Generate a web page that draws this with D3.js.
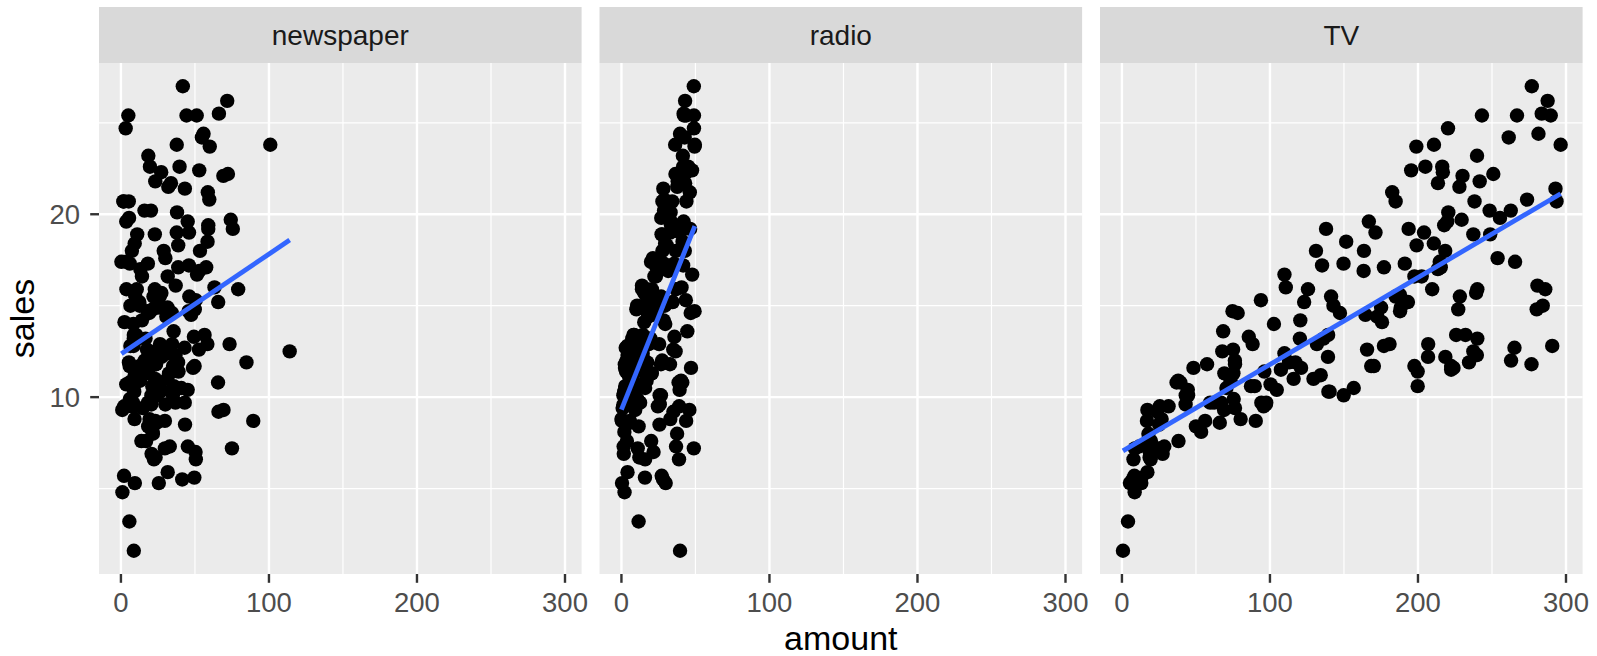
<!DOCTYPE html>
<meta charset="utf-8">
<style>
body{ margin:0; background:#fff; }
text{ font-family:"Liberation Sans", Arial, Helvetica, sans-serif; }
.strip text{ font-size:28px; fill:#1A1A1A; text-anchor:middle; }
.tick-label{ font-size:27.5px; fill:#4D4D4D; }
.axis-title{ font-size:34px; fill:#000; text-anchor:middle; }
</style>
<body>
<script src="https://cdn.jsdelivr.net/npm/d3@7"></script>
<script>
// Advertising data: ad budget per medium and the sales that went with it
var tv = [230.1,44.5,17.2,151.5,180.8,8.7,57.5,120.2,8.6,199.8,66.1,214.7,23.8,97.5,204.1,195.4,67.8,281.4,69.2,147.3,
218.4,237.4,13.2,228.3,62.3,262.9,142.9,240.1,248.8,70.6,292.9,112.9,97.2,265.6,95.7,290.7,266.9,74.7,43.1,228,
202.5,177,293.6,206.9,25.1,175.1,89.7,239.9,227.2,66.9,199.8,100.4,216.4,182.6,262.7,198.9,7.3,136.2,210.8,210.7,
53.5,261.3,239.3,102.7,131.1,69,31.5,139.3,237.4,216.8,199.1,109.8,26.8,129.4,213.4,16.9,27.5,120.5,5.4,116,
76.4,239.8,75.3,68.4,213.5,193.2,76.3,110.7,88.3,109.8,134.3,28.6,217.7,250.9,107.4,163.3,197.6,184.9,289.7,135.2,
222.4,296.4,280.2,187.9,238.2,137.9,25,90.4,13.1,255.4,225.8,241.7,175.7,209.6,78.2,75.1,139.2,76.4,125.7,19.4,
141.3,18.8,224,123.1,229.5,87.2,7.8,80.2,220.3,59.6,0.7,265.2,8.4,219.8,36.9,48.3,25.6,273.7,43,184.9,
73.4,193.7,220.5,104.6,96.2,140.3,240.1,243.2,38,44.7,280.7,121,197.6,171.3,187.8,4.1,93.9,149.8,11.7,131.7,
172.5,85.7,188.4,163.5,117.2,234.5,17.9,206.8,215.4,284.3,50,164.5,19.6,168.4,222.4,276.9,248.4,170.2,276.7,165.6,
156.6,218.5,56.2,287.6,253.8,205,139.5,191.1,286,18.7,39.5,75.5,17.2,166.8,149.7,38.2,94.2,177,283.6,232.1];

var radio = [37.8,39.3,45.9,41.3,10.8,48.9,32.8,19.6,2.1,2.6,5.8,24,35.1,7.6,32.9,47.7,36.6,39.6,20.5,23.9,
27.7,5.1,15.9,16.9,12.6,3.5,29.3,16.7,27.1,16,28.3,17.4,1.5,20,1.4,4.1,43.8,49.4,26.7,37.7,
22.3,33.4,27.7,8.4,25.7,22.5,9.9,41.5,15.8,11.7,3.1,9.6,41.7,46.2,28.8,49.4,28.1,19.2,49.6,29.5,
2,42.7,15.5,29.6,42.8,9.3,24.6,14.5,27.5,43.9,30.6,14.3,33,5.7,24.6,43.7,1.6,28.5,29.9,7.7,
26.7,4.1,20.3,44.5,43,18.4,27.5,40.6,25.5,47.8,4.9,1.5,33.5,36.5,14,31.6,3.5,21,42.3,41.7,
4.3,36.3,10.1,17.2,34.3,46.4,11,0.3,0.4,26.9,8.2,38,15.4,20.6,46.8,35,14.3,0.8,36.9,16,
26.8,21.7,2.4,34.6,32.3,11.8,38.9,0,49,12,39.6,2.9,27.2,33.5,38.6,47,39,28.9,25.9,43.9,
17,35.4,33.2,5.7,14.8,1.9,7.3,49,40.3,25.8,13.9,8.4,23.3,39.7,21.1,11.6,43.5,1.3,36.9,18.4,
18.1,35.8,18.1,36.8,14.7,3.4,37.6,5.2,23.6,10.6,11.6,20.9,20.1,7.1,3.4,48.9,30.2,7.8,2.3,10,
2.6,5.4,5.7,43,21.3,45.1,2.1,28.7,13.9,12.1,41.1,10.8,4.1,42,35.6,3.7,4.9,9.3,42,8.6];

var newspaper = [69.2,45.1,69.3,58.5,58.4,75,23.5,11.6,1,21.2,24.2,4,65.9,7.2,46,52.9,114,55.8,18.3,19.1,
53.4,23.5,49.6,26.2,18.3,19.5,12.6,22.9,22.9,40.8,43.2,38.6,30,0.3,7.4,8.5,5,45.7,35.1,32,
31.6,38.7,1.8,26.4,43.3,31.5,35.7,18.5,49.9,36.8,34.6,3.6,39.6,58.7,15.9,60,41.4,16.6,37.7,9.3,
21.4,54.7,27.3,8.4,28.9,0.9,2.2,10.2,11,27.2,38.7,31.7,19.3,31.3,13.1,89.4,20.7,14.2,9.4,23.1,
22.3,36.9,32.5,35.6,33.8,65.7,16,63.2,73.4,51.4,9.3,33,59,72.3,10.9,52.9,5.9,22,51.2,45.9,
49.8,100.9,21.4,17.9,5.3,59,29.7,23.2,25.6,5.5,56.5,23.2,2.4,10.7,34.5,52.7,25.6,14.8,79.2,22.3,
46.2,50.4,15.6,12.4,74.2,25.9,50.6,9.2,3.2,43.1,8.7,43,2.1,45.1,65.6,8.5,9.3,59.7,20.5,1.7,
12.9,75.6,37.9,34.4,38.9,9,8.7,44.3,11.9,20.6,37,48.7,14.2,37.7,9.5,5.7,50.5,24.3,45.2,34.6,
30.7,49.3,25.6,7.4,5.4,84.8,21.6,19.4,57.6,6.4,18.4,47.4,17,12.8,13.1,41.8,20.3,35.2,23.7,17.6,
8.3,27.4,29.7,71.8,30,19.6,26.6,18.2,3.7,23.4,5.8,6,31.6,3.6,6,13.8,8.1,6.4,66.2,8.7];

var sales = [22.1,10.4,9.3,18.5,12.9,7.2,11.8,13.2,4.8,10.6,8.6,17.4,9.2,9.7,19,22.4,12.5,24.4,11.3,14.6,
18,12.5,5.6,15.5,9.7,12,15,15.9,18.9,10.5,21.4,11.9,9.6,17.4,9.5,12.8,25.4,14.7,10.1,21.5,
16.6,17.1,20.7,12.9,8.5,14.9,10.6,23.2,14.8,9.7,11.4,10.7,22.6,21.2,20.2,23.7,5.5,13.2,23.8,18.4,
8.1,24.2,15.7,14,18,9.3,9.5,13.4,18.9,22.3,18.3,12.4,8.8,11,17,8.7,6.9,14.2,5.3,11,
11.8,12.3,11.3,13.6,21.7,15.2,12,16,12.9,16.7,11.2,7.3,19.4,22.2,11.5,16.9,11.7,15.5,25.4,17.2,
11.7,23.8,14.8,14.7,20.7,19.2,7.2,8.7,5.3,19.8,13.4,21.8,14.1,15.9,14.6,12.6,12.2,9.4,15.9,6.6,
15.5,7,11.6,15.2,19.7,10.6,6.6,8.8,24.7,9.7,1.6,12.7,5.7,19.6,10.8,11.6,9.5,20.8,9.6,20.7,
10.9,19.2,20.1,10.4,11.4,10.3,13.2,25.4,10.9,10.1,16.1,11.6,16.6,19,15.6,3.2,15.3,10.1,7.3,12.9,
14.4,13.3,14.9,18,11.9,11.9,8,12.2,17.1,15,8.4,14.5,7.6,11.7,11.5,27,20.2,11.7,11.8,12.6,
10.5,12.2,8.7,26.2,17.6,22.6,10.3,17.3,15.9,6.7,10.8,9.9,5.9,19.6,17.3,7.6,9.7,12.8,25.5,13.4];

var media = ["newspaper", "radio", "TV"];
var amounts = {newspaper: newspaper, radio: radio, TV: tv};
var xTicks = [0, 100, 200, 300];
var xMinor = [50, 150, 250];
var yTicks = [10, 20];
var yMinor = [5, 15, 25];

var W = 1597, H = 656;
var panelLeft = 99, panelW = 482.6, panelGap = 17.9;
var stripTop = 7, panelTop = 63, panelBottom = 574;

var svg = d3.select("body").append("svg").attr("width", W).attr("height", H);

// ggplot style 5% padding on both scales, shared by the three facets
function expand(ext){ var d = (ext[1]-ext[0])*0.05; return [ext[0]-d, ext[1]+d]; }
var allX = tv.concat(radio, newspaper);
var x = d3.scaleLinear().domain(expand(d3.extent(allX))).range([0, panelW]);
var y = d3.scaleLinear().domain(expand(d3.extent(sales))).range([panelBottom, panelTop]);

// plain least squares for the smoother
function lm(xs, ys){
  var mx = d3.mean(xs), my = d3.mean(ys), sxy = 0, sxx = 0;
  xs.forEach(function(v, i){ sxy += (v-mx)*(ys[i]-my); sxx += (v-mx)*(v-mx); });
  var b = sxy/sxx;
  return {a: my - b*mx, b: b};
}

media.forEach(function(m, i){
  var g = svg.append("g").attr("transform", "translate(" + (panelLeft + i*(panelW+panelGap)) + ",0)");
  var xs = amounts[m];

  // strip
  var s = g.append("g").attr("class", "strip");
  s.append("rect").attr("x", 0).attr("y", stripTop).attr("width", panelW)
    .attr("height", panelTop - stripTop).attr("fill", "#D9D9D9");
  s.append("text").attr("x", panelW/2).attr("y", (stripTop+panelTop)/2 + 10).text(m);

  // panel background + grid
  g.append("rect").attr("x", 0).attr("y", panelTop).attr("width", panelW)
    .attr("height", panelBottom - panelTop).attr("fill", "#EBEBEB");
  g.selectAll(".ymin").data(yMinor).enter().append("line")
    .attr("x1", 0).attr("x2", panelW).attr("y1", d => y(d)).attr("y2", d => y(d))
    .attr("stroke", "#fff").attr("stroke-width", 1.2);
  g.selectAll(".xmin").data(xMinor).enter().append("line")
    .attr("x1", d => x(d)).attr("x2", d => x(d)).attr("y1", panelTop).attr("y2", panelBottom)
    .attr("stroke", "#fff").attr("stroke-width", 1.2);
  g.selectAll(".ymaj").data(yTicks).enter().append("line")
    .attr("x1", 0).attr("x2", panelW).attr("y1", d => y(d)).attr("y2", d => y(d))
    .attr("stroke", "#fff").attr("stroke-width", 2.4);
  g.selectAll(".xmaj").data(xTicks).enter().append("line")
    .attr("x1", d => x(d)).attr("x2", d => x(d)).attr("y1", panelTop).attr("y2", panelBottom)
    .attr("stroke", "#fff").attr("stroke-width", 2.4);

  // points
  g.selectAll("circle").data(xs.map((v, k) => [v, sales[k]])).enter().append("circle")
    .attr("cx", d => x(d[0])).attr("cy", d => y(d[1])).attr("r", 7.2).attr("fill", "#000");

  // linear fit over the data range
  var fit = lm(xs, sales);
  var ext = d3.extent(xs);
  g.append("path")
    .attr("d", d3.line()(ext.map(v => [x(v), y(fit.a + fit.b*v)])))
    .attr("stroke", "#3366FF").attr("stroke-width", 4.8).attr("fill", "none");

  // x axis
  g.selectAll(".xt").data(xTicks).enter().append("line")
    .attr("x1", d => x(d)).attr("x2", d => x(d)).attr("y1", panelBottom).attr("y2", panelBottom + 8.8)
    .attr("stroke", "#333").attr("stroke-width", 2.4);
  g.selectAll(".xl").data(xTicks).enter().append("text").attr("class", "tick-label")
    .attr("x", d => x(d)).attr("y", 611.5).attr("text-anchor", "middle").text(d => d);

  if (i === 0) {
    g.selectAll(".yt").data(yTicks).enter().append("line")
      .attr("x1", -8.8).attr("x2", 0).attr("y1", d => y(d)).attr("y2", d => y(d))
      .attr("stroke", "#333").attr("stroke-width", 2.4);
    g.selectAll(".yl").data(yTicks).enter().append("text").attr("class", "tick-label")
      .attr("x", -19).attr("y", d => y(d) + 9.8).attr("text-anchor", "end").text(d => d);
  }
});

svg.append("text").attr("class", "axis-title")
  .attr("x", panelLeft + (3*panelW + 2*panelGap)/2).attr("y", 650).text("amount");
svg.append("text").attr("class", "axis-title")
  .attr("transform", "translate(33.5," + (panelTop+panelBottom)/2 + ") rotate(-90)").text("sales");
</script>
</body>
